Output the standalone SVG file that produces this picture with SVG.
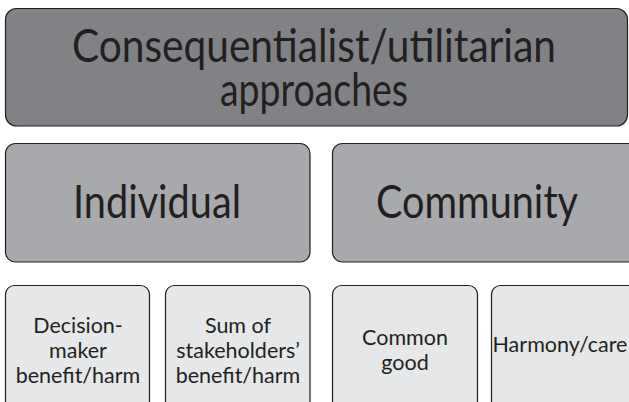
<svg xmlns="http://www.w3.org/2000/svg" width="629" height="402" viewBox="0 0 629 402">
<style>
.box{stroke:#231f20;stroke-width:1.2}
.l1{fill:#808285}
.l2{fill:#a7a9ac}
.l3{fill:#e6e7e8}
text{font-family:Lato,"Open Sans","Liberation Sans",sans-serif;fill:#231f20;text-anchor:middle}
.t1{font-size:46px}
.t2{font-size:46px}
.t3{font-size:21.5px}
</style>
<rect width="629" height="402" fill="#ffffff"/>
<g id="top">
<rect class="box l1" x="5.5" y="8.5" width="622" height="117.5" rx="11"/>
<text class="t1" x="314" y="62" textLength="484" lengthAdjust="spacingAndGlyphs">Consequentialist/utilitarian</text>
<text class="t1" x="314" y="106" textLength="188" lengthAdjust="spacingAndGlyphs">approaches</text>
</g>
<g id="individual">
<rect class="box l2" x="5.5" y="143.5" width="304.5" height="118.5" rx="10"/>
<text class="t2" x="157" y="218" textLength="168" lengthAdjust="spacingAndGlyphs">Individual</text>
</g>
<g id="community">
<rect class="box l2" x="332.5" y="143.5" width="310" height="118.5" rx="10"/>
<text class="t2" x="477" y="218" textLength="202" lengthAdjust="spacingAndGlyphs">Community</text>
</g>
<g id="decision">
<rect class="box l3" x="5.5" y="285.5" width="144" height="130" rx="9"/>
<text class="t3" x="78" y="333">Decision-</text>
<text class="t3" x="78" y="358">maker</text>
<text class="t3" x="78" y="383">benefit/harm</text>
</g>
<g id="sum">
<rect class="box l3" x="165.5" y="285.5" width="144.5" height="130" rx="9"/>
<text class="t3" x="238" y="333">Sum of</text>
<text class="t3" x="238" y="358">stakeholders’</text>
<text class="t3" x="238" y="383">benefit/harm</text>
</g>
<g id="common">
<rect class="box l3" x="332.5" y="285.5" width="145" height="130" rx="9"/>
<text class="t3" x="405" y="345">Common</text>
<text class="t3" x="405" y="370">good</text>
</g>
<g id="harmony">
<rect class="box l3" x="491.5" y="285.5" width="150" height="130" rx="9"/>
<text class="t3" x="560" y="352">Harmony/care</text>
</g>
<g id="connectors"></g>
</svg>
